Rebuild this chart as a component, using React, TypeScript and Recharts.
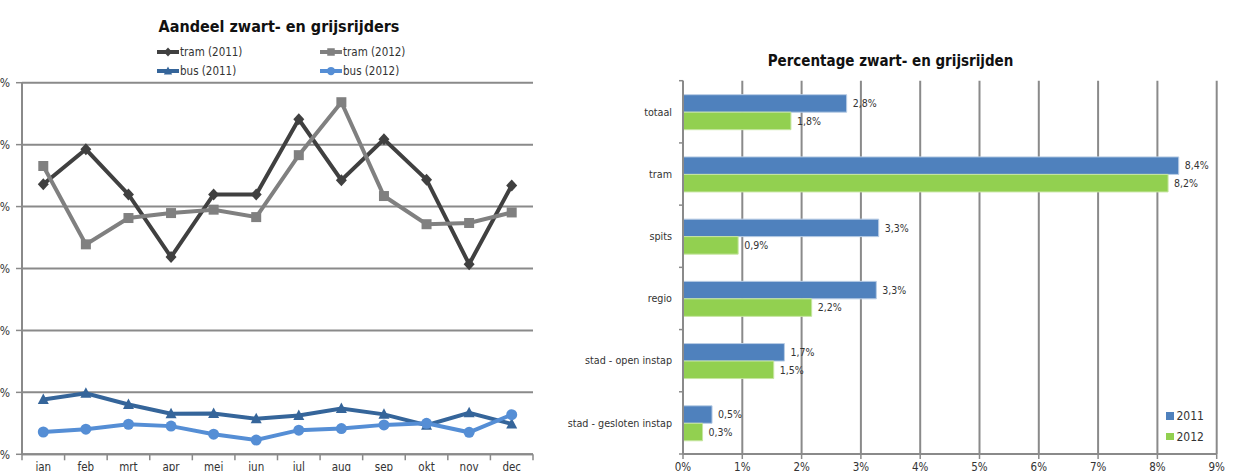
import React from 'react';
import {
  LineChart, Line, XAxis, YAxis, CartesianGrid, Legend,
  BarChart, Bar, LabelList,
} from 'recharts';

// ---------- left chart data ----------
const months = ['jan', 'feb', 'mrt', 'apr', 'mei', 'jun', 'jul', 'aug', 'sep', 'okt', 'nov', 'dec'];
const tram2011 = [8.72, 9.85, 8.39, 6.37, 8.39, 8.39, 10.82, 8.85, 10.17, 8.87, 6.14, 8.68];
const tram2012 = [9.31, 6.78, 7.63, 7.79, 7.9, 7.66, 9.66, 11.37, 8.34, 7.43, 7.47, 7.81];
const bus2011 = [1.77, 1.97, 1.61, 1.31, 1.32, 1.15, 1.25, 1.48, 1.29, 0.94, 1.34, 0.98];
const bus2012 = [0.72, 0.81, 0.97, 0.91, 0.65, 0.46, 0.78, 0.83, 0.95, 1.0, 0.71, 1.28];
const lineTicks = [0, 2, 4, 6, 8, 10, 12];

// ---------- right chart data ----------
const segments = ['totaal', 'tram', 'spits', 'regio', 'stad - open instap', 'stad - gesloten instap'];
const pct2011 = [2.76, 8.36, 3.3, 3.26, 1.71, 0.49];
const pct2012 = [1.82, 8.18, 0.93, 2.17, 1.53, 0.33];
const barTicks = [0, 1, 2, 3, 4, 5, 6, 7, 8, 9];

const lineData = months.map((m, i) => ({
  month: m,
  tram2011: tram2011[i],
  tram2012: tram2012[i],
  bus2011: bus2011[i],
  bus2012: bus2012[i],
}));

const barData = segments.map((s, i) => ({ segment: s, y2011: pct2011[i], y2012: pct2012[i] }));

const FONT = "'Liberation Sans Narrow', 'DejaVu Sans Condensed', 'Arial Narrow', 'Liberation Sans', sans-serif";
const GRID = '#8a8a8a';
const TEXT = '#333333';

const lineSeries = [
  { key: 'tram2011', name: 'tram (2011)', color: '#404040', shape: 'diamond' },
  { key: 'tram2012', name: 'tram (2012)', color: '#808080', shape: 'square' },
  { key: 'bus2011', name: 'bus (2011)', color: '#35659a', shape: 'triangle' },
  { key: 'bus2012', name: 'bus (2012)', color: '#558ed5', shape: 'circle' },
];

function Marker({ shape, cx, cy, color, s = 1 }: any) {
  switch (shape) {
    case 'diamond':
      return <polygon points={`${cx},${cy - 6 * s} ${cx + 5.5 * s},${cy} ${cx},${cy + 6 * s} ${cx - 5.5 * s},${cy}`} fill={color} />;
    case 'square':
      return <rect x={cx - 5 * s} y={cy - 5 * s} width={10 * s} height={10 * s} fill={color} />;
    case 'triangle':
      return <polygon points={`${cx},${cy - 6 * s} ${cx + 5.5 * s},${cy + 4.5 * s} ${cx - 5.5 * s},${cy + 4.5 * s}`} fill={color} />;
    default:
      return <circle cx={cx} cy={cy} r={5.5 * s} fill={color} />;
  }
}

const makeDot = (shape: string, color: string) => (props: any) => {
  const { cx, cy, index } = props;
  if (cx == null || cy == null) return <g key={index} />;
  return (
    <g key={index}>
      <Marker shape={shape} cx={cx} cy={cy} color={color} />
    </g>
  );
};

function MonthTick(props: any) {
  const { x, y, payload, width, visibleTicksCount, index } = props;
  const half = width && visibleTicksCount ? width / visibleTicksCount / 2 : 0;
  return (
    <g>
      <line x1={x - half} x2={x - half} y1={y} y2={y + 6} stroke={GRID} strokeWidth={1.5} />
      {index === visibleTicksCount - 1 && (
        <line x1={x + half} x2={x + half} y1={y} y2={y + 6} stroke={GRID} strokeWidth={1.5} />
      )}
      <text x={x} y={y + 9} dy="0.71em" textAnchor="middle" fontSize={11.5} fill={TEXT} fontFamily={FONT}>
        {payload.value}
      </text>
    </g>
  );
}

function SegmentTick(props: any) {
  const { x, y, payload, height, visibleTicksCount, index } = props;
  const half = height && visibleTicksCount ? height / visibleTicksCount / 2 : 0;
  return (
    <g>
      <line x1={x - 4} x2={x} y1={y - half} y2={y - half} stroke={GRID} strokeWidth={1.5} />
      {index === visibleTicksCount - 1 && (
        <line x1={x - 4} x2={x} y1={y + half} y2={y + half} stroke={GRID} strokeWidth={1.5} />
      )}
      <text x={x - 11} y={y} dy="0.355em" textAnchor="end" fontSize={10.7} fill={TEXT} fontFamily={FONT}>
        {payload.value}
      </text>
    </g>
  );
}

function LineLegend(props: any) {
  const { payload = [] } = props;
  const order = (p: any) => lineSeries.findIndex((s) => s.key === p.dataKey);
  const items = [...payload].sort((a: any, b: any) => order(a) - order(b));
  return (
    <div style={{ display: 'grid', gridTemplateColumns: '163px 110px', fontFamily: FONT, fontSize: 11.5, color: TEXT }}>
      {items.map((p: any) => {
        const ser = lineSeries[order(p)] || lineSeries[0];
        return (
          <div key={p.value} style={{ display: 'flex', alignItems: 'center', height: 19.5 }}>
            <svg width={22} height={12} style={{ marginRight: 1 }}>
              <line x1={0} x2={22} y1={6} y2={6} stroke={ser.color} strokeWidth={4} />
              <Marker shape={ser.shape} cx={11} cy={6} color={ser.color} s={0.75} />
            </svg>
            <span>{p.value}</span>
          </div>
        );
      })}
    </div>
  );
}

function BarLegend(props: any) {
  const { payload = [] } = props;
  return (
    <div style={{ fontFamily: FONT, fontSize: 12, color: TEXT }}>
      {payload.map((p: any) => (
        <div key={p.value} style={{ display: 'flex', alignItems: 'center', height: 20.4 }}>
          <div style={{ width: 7.5, height: 7.5, background: p.color, marginRight: 3 }} />
          <span>{p.value}</span>
        </div>
      ))}
    </div>
  );
}

const fmtPct = (v: any) => `${Number(v).toFixed(1).replace('.', ',')}%`;

export default function App() {
  return (
    <div
      style={{
        position: 'absolute', left: 0, top: 0, width: 1235, height: 471,
        overflow: 'hidden', background: '#fff', fontFamily: FONT,
      }}
    >
      {/* left chart */}
      <div style={{ position: 'absolute', left: 129, top: 16, width: 300, textAlign: 'center', fontSize: 16, fontWeight: 'bold', lineHeight: '22px', color: '#111' }}>
        Aandeel zwart- en grijsrijders
      </div>
      <div style={{ position: 'absolute', left: -40, top: 0 }}>
        <LineChart width={590} height={490} data={lineData} margin={{ top: 82.7, right: 17, bottom: 5.7, left: 0 }}>
          <CartesianGrid vertical={false} stroke={GRID} strokeWidth={2} />
          <XAxis
            dataKey="month"
            scale="band"
            height={30}
            axisLine={{ stroke: GRID, strokeWidth: 2 }}
            tickLine={false}
            tickSize={0}
            tickMargin={0}
            interval={0}
            tick={(p: any) => <MonthTick {...p} />}
          />
          <YAxis
            width={62}
            domain={[0, 12]}
            ticks={lineTicks}
            tickFormatter={(v: any) => `${v}%`}
            axisLine={{ stroke: GRID, strokeWidth: 2 }}
            tickLine={{ stroke: GRID, strokeWidth: 1.5 }}
            tickSize={6}
            tickMargin={6}
            tick={{ fontSize: 12, fill: TEXT, fontFamily: FONT }}
          />
          <Legend
            layout="vertical"
            align="center"
            verticalAlign="middle"
            wrapperStyle={{ left: 197, top: 42, width: 280 }}
            content={(p: any) => <LineLegend {...p} />}
          />
          {lineSeries.map((s) => (
            <Line
              key={s.key}
              dataKey={s.key}
              name={s.name}
              stroke={s.color}
              strokeWidth={4}
              dot={makeDot(s.shape, s.color)}
              activeDot={false}
              isAnimationActive={false}
            />
          ))}
        </LineChart>
      </div>

      {/* right chart */}
      <div style={{ position: 'absolute', left: 740.5, top: 50, width: 300, textAlign: 'center', fontSize: 15, fontWeight: 'bold', lineHeight: '22px', color: '#111' }}>
        Percentage zwart- en grijsrijden
      </div>
      <div style={{ position: 'absolute', left: 520, top: 0 }}>
        <BarChart
          layout="vertical"
          width={715}
          height={490}
          data={barData}
          margin={{ top: 80.7, right: 18.3, bottom: 6, left: 0 }}
          barSize={17.5}
          barGap={0}
        >
          <CartesianGrid horizontal={false} stroke={GRID} strokeWidth={2} />
          <XAxis
            type="number"
            domain={[0, 9]}
            ticks={barTicks}
            height={30}
            tickFormatter={(v: any) => `${v}%`}
            axisLine={{ stroke: GRID, strokeWidth: 2 }}
            tickLine={{ stroke: GRID, strokeWidth: 1.5 }}
            tickSize={5}
            tickMargin={4}
            tick={{ fontSize: 11.5, fill: TEXT, fontFamily: FONT }}
          />
          <YAxis
            type="category"
            dataKey="segment"
            width={163}
            axisLine={{ stroke: GRID, strokeWidth: 2 }}
            tickLine={false}
            tickSize={0}
            tickMargin={0}
            interval={0}
            tick={(p: any) => <SegmentTick {...p} />}
          />
          <Legend
            layout="vertical"
            align="center"
            verticalAlign="middle"
            wrapperStyle={{ left: 646, top: 406, width: 60 }}
            content={(p: any) => <BarLegend {...p} />}
          />
          <Bar dataKey="y2011" name="2011" fill="#4f81bd" stroke="#b9cde5" strokeWidth={1} isAnimationActive={false}>
            <LabelList dataKey="y2011" position="right" offset={6} formatter={fmtPct} style={{ fontSize: 10.5, fill: TEXT, fontFamily: FONT }} />
          </Bar>
          <Bar dataKey="y2012" name="2012" fill="#92d050" stroke="#c6e5a0" strokeWidth={1} isAnimationActive={false}>
            <LabelList dataKey="y2012" position="right" offset={6} formatter={fmtPct} style={{ fontSize: 10.5, fill: TEXT, fontFamily: FONT }} />
          </Bar>
        </BarChart>
      </div>
    </div>
  );
}
